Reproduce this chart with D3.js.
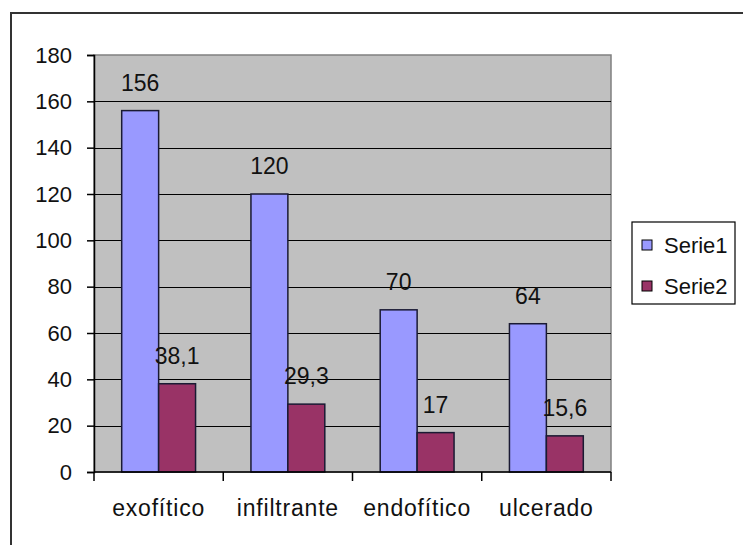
<!DOCTYPE html>
<html>
<head>
<meta charset="utf-8">
<script src="https://cdn.jsdelivr.net/npm/d3@7"></script>
<style>
  html, body { margin: 0; padding: 0; background: #fff; }
  svg text { font-family: "Liberation Sans", Arial, sans-serif; fill: #111; }
</style>
</head>
<body>
<svg id="chart" width="743" height="545"></svg>
<script>
// Tumour growth pattern counts
const categories = ["exofítico", "infiltrante", "endofítico", "ulcerado"];
const serie1 = [156, 120, 70, 64];
const serie2 = [38.1, 29.3, 17, 15.6];
const seriesNames = ["Serie1", "Serie2"];
const seriesColors = ["#9999FF", "#993366"];
const yTicks = [0, 20, 40, 60, 80, 100, 120, 140, 160, 180];

const svg = d3.select("#chart");

// Chart frame (open on the right and bottom edges)
svg.append("rect")
  .attr("x", 11).attr("y", 13)
  .attr("width", 800).attr("height", 600)
  .attr("fill", "none").attr("stroke", "#333").attr("stroke-width", 2);

const plot = { left: 94, right: 611, top: 55, bottom: 472 };

const x = d3.scaleBand().domain(categories)
  .range([plot.left, plot.right]).paddingInner(0).paddingOuter(0);
const inner = d3.scaleBand().domain(seriesNames)
  .range([0, x.bandwidth()]).paddingInner(0).paddingOuter(0.75);
const y = d3.scaleLinear().domain([0, 180]).range([plot.bottom, plot.top]);

// Plot area
svg.append("rect")
  .attr("x", plot.left).attr("y", plot.top)
  .attr("width", plot.right - plot.left).attr("height", plot.bottom - plot.top)
  .attr("fill", "#C0C0C0").attr("stroke", "#808080").attr("stroke-width", 1.5);

// Gridlines
svg.append("g").selectAll("line").data(yTicks.filter(d => d > 0 && d < 180)).join("line")
  .attr("x1", plot.left).attr("x2", plot.right)
  .attr("y1", d => Math.round(y(d)) + 0.5).attr("y2", d => Math.round(y(d)) + 0.5)
  .attr("stroke", "#000").attr("stroke-width", 1.2);

const table = categories.map((c, i) => ({ cat: c, values: [serie1[i], serie2[i]] }));

// Bars
const groups = svg.append("g").selectAll("g").data(table).join("g")
  .attr("transform", d => `translate(${x(d.cat)},0)`);
groups.selectAll("rect").data(d => d.values.map((v, j) => ({ v, s: seriesNames[j], j }))).join("rect")
  .attr("x", d => inner(d.s))
  .attr("y", d => y(d.v))
  .attr("width", inner.bandwidth())
  .attr("height", d => y(0) - y(d.v))
  .attr("fill", d => seriesColors[d.j])
  .attr("stroke", "#1a1a33").attr("stroke-width", 1.5);

// Value labels
const fmt = v => String(v).replace(".", ",");
groups.selectAll("text").data(d => d.values.map((v, j) => ({ v, s: seriesNames[j] }))).join("text")
  .attr("x", d => inner(d.s) + inner.bandwidth() / 2)
  .attr("y", d => y(d.v) - 20)
  .attr("text-anchor", "middle")
  .attr("font-size", 23)
  .text(d => fmt(d.v));

// Y axis
const yAxis = svg.append("g")
  .attr("transform", `translate(${plot.left},0)`)
  .call(d3.axisLeft(y).tickValues(yTicks).tickSize(7).tickPadding(15).tickFormat(d3.format("d")));
yAxis.select(".domain").attr("stroke", "#000").attr("stroke-width", 1.5);
yAxis.selectAll(".tick line").attr("stroke", "#000").attr("stroke-width", 1.5);
yAxis.selectAll(".tick text").attr("font-size", 22).attr("font-family", null).attr("fill", "#111");

// X axis with tick marks at category boundaries
const xAxis = svg.append("g").attr("transform", `translate(0,${plot.bottom})`);
xAxis.append("line")
  .attr("x1", plot.left).attr("x2", plot.right)
  .attr("stroke", "#000").attr("stroke-width", 1.5);
const bounds = categories.map(c => x(c)).concat([plot.right]);
xAxis.selectAll("line.tk").data(bounds).join("line").attr("class", "tk")
  .attr("x1", d => d).attr("x2", d => d).attr("y1", 0).attr("y2", 9)
  .attr("stroke", "#000").attr("stroke-width", 1.5);
xAxis.selectAll("text").data(categories).join("text")
  .attr("x", d => x(d) + x.bandwidth() / 2)
  .attr("y", 44)
  .attr("text-anchor", "middle")
  .attr("font-size", 23)
  .attr("letter-spacing", 0.8)
  .text(d => d);

// Legend
const legend = svg.append("g");
legend.append("rect")
  .attr("x", 632).attr("y", 222).attr("width", 103).attr("height", 82)
  .attr("fill", "#fff").attr("stroke", "#000").attr("stroke-width", 1.2);
const items = legend.selectAll("g").data(seriesNames).join("g")
  .attr("transform", (d, i) => `translate(642,${245 + i * 41})`);
items.append("rect")
  .attr("x", 0).attr("y", -5).attr("width", 10).attr("height", 10)
  .attr("fill", (d, i) => seriesColors[i]).attr("stroke", "#000").attr("stroke-width", 1);
items.append("text")
  .attr("x", 22).attr("y", 8)
  .attr("font-size", 22)
  .text(d => d);
</script>
</body>
</html>
